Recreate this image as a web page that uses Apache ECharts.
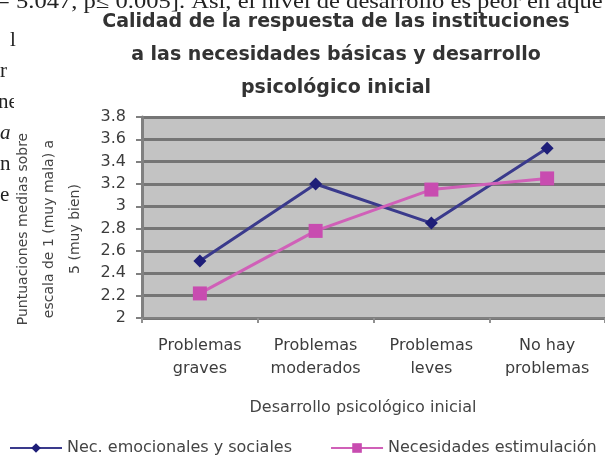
<!DOCTYPE html>
<html><head><meta charset="utf-8">
<script src="https://cdn.jsdelivr.net/npm/echarts@6/dist/echarts.min.js"></script>
<style>html,body{margin:0;padding:0;background:#fff}#c{width:605px;height:455px}</style>
</head><body><div id="c"></div>
<script>
const categories = ['Problemas\ngraves', 'Problemas\nmoderados', 'Problemas\nleves', 'No hay\nproblemas'];
const emocionales = [2.51, 3.20, 2.85, 3.52];
const estimulacion = [2.22, 2.78, 3.15, 3.25];
const seriesNames = ['Nec. emocionales y sociales', 'Necesidades estimulación'];
const titleLines = ['Calidad de la respuesta de las instituciones', 'a las necesidades básicas y desarrollo', 'psicológico inicial'];
const yTitleLines = ['Puntuaciones medias sobre', 'escala de 1 (muy mala) a', '5 (muy bien)'];
const xTitle = 'Desarrollo psicológico inicial';
const docTop = '= 5.047, p≤ 0.005]. Así, el nivel de desarrollo es peor en aque';
const docLeft = ['l', 'r', 'ne', 'a', 'n', 'e'];

const chart = echarts.init(document.getElementById('c'));
const txt = '#3c3c3c';
const F = '"DejaVu Sans"';
const graphics = [];
graphics.push({type:'text', x:-4, y:-8, scaleX:1.17, style:{text:docTop, font:'21px "Liberation Serif"', fill:'#222'}});
docLeft.forEach((t,i)=>{
  graphics.push({type:'text', x: i===0 ? 10 : (i===2 ? -2 : 0), y: 30 + i*31, style:{text:t, font:(i===3?'italic ':'')+'21px "Liberation Serif"', fill:'#222'}});
});
graphics.push({type:'rect', shape:{x:14, y:95, width:10, height:25}, style:{fill:'#fff'}});
titleLines.forEach((t,i)=>{
  graphics.push({type:'text', x:336, y:22 + i*33, style:{text:t, font:'bold 19px ' + F, fill:'#333', align:'center', verticalAlign:'middle'}});
});
yTitleLines.forEach((t,i)=>{
  graphics.push({type:'text', x:23 + i*26, y:229, rotation:Math.PI/2, style:{text:t, font:'14px ' + F, fill:'#444', align:'center', verticalAlign:'middle'}});
});
graphics.push({type:'text', x:363, y:408, style:{text:xTitle, font:'16px ' + F, fill:'#444', align:'center', verticalAlign:'middle'}});

chart.setOption({
  animation:false,
  backgroundColor:'#fff',
  graphic: graphics,
  grid:{left:142, top:117, width:470, height:201, backgroundColor:'#c3c3c3', show:true, borderWidth:0},
  legend:{left:4, top:435, itemWidth:52, itemHeight:12, itemGap:38,
    textStyle:{fontSize:16, fontFamily:'DejaVu Sans', color:'#444'},
    data: seriesNames},
  xAxis:{type:'category', data:categories, boundaryGap:true,
    axisLine:{lineStyle:{color:'#808080', width:2}},
    axisTick:{show:true, interval:0, length:5, lineStyle:{color:'#909090', width:2}},
    axisLabel:{interval:0, fontSize:16, fontFamily:'DejaVu Sans', color:txt, margin:16, lineHeight:23}},
  yAxis:{type:'value', min:2, max:3.8, interval:0.2,
    axisLine:{show:true, lineStyle:{color:'#808080', width:3}},
    axisTick:{show:true, length:6, lineStyle:{color:'#808080', width:2}},
    axisLabel:{fontSize:16, fontFamily:'DejaVu Sans', color:txt, margin:16,
      formatter:v=>String(Math.round(v*10)/10)},
    splitLine:{lineStyle:{color:'#757575', width:3}}},
  series:[
    {name:seriesNames[0], type:'line', data:emocionales, symbol:'diamond', symbolSize:13,
      lineStyle:{color:'#3a3a8c', width:3}, itemStyle:{color:'#1e1e78'}},
    {name:seriesNames[1], type:'line', data:estimulacion, symbol:'rect', symbolSize:14,
      lineStyle:{color:'#d060b8', width:3}, itemStyle:{color:'#c84cb0'}}
  ]
});
</script></body></html>
